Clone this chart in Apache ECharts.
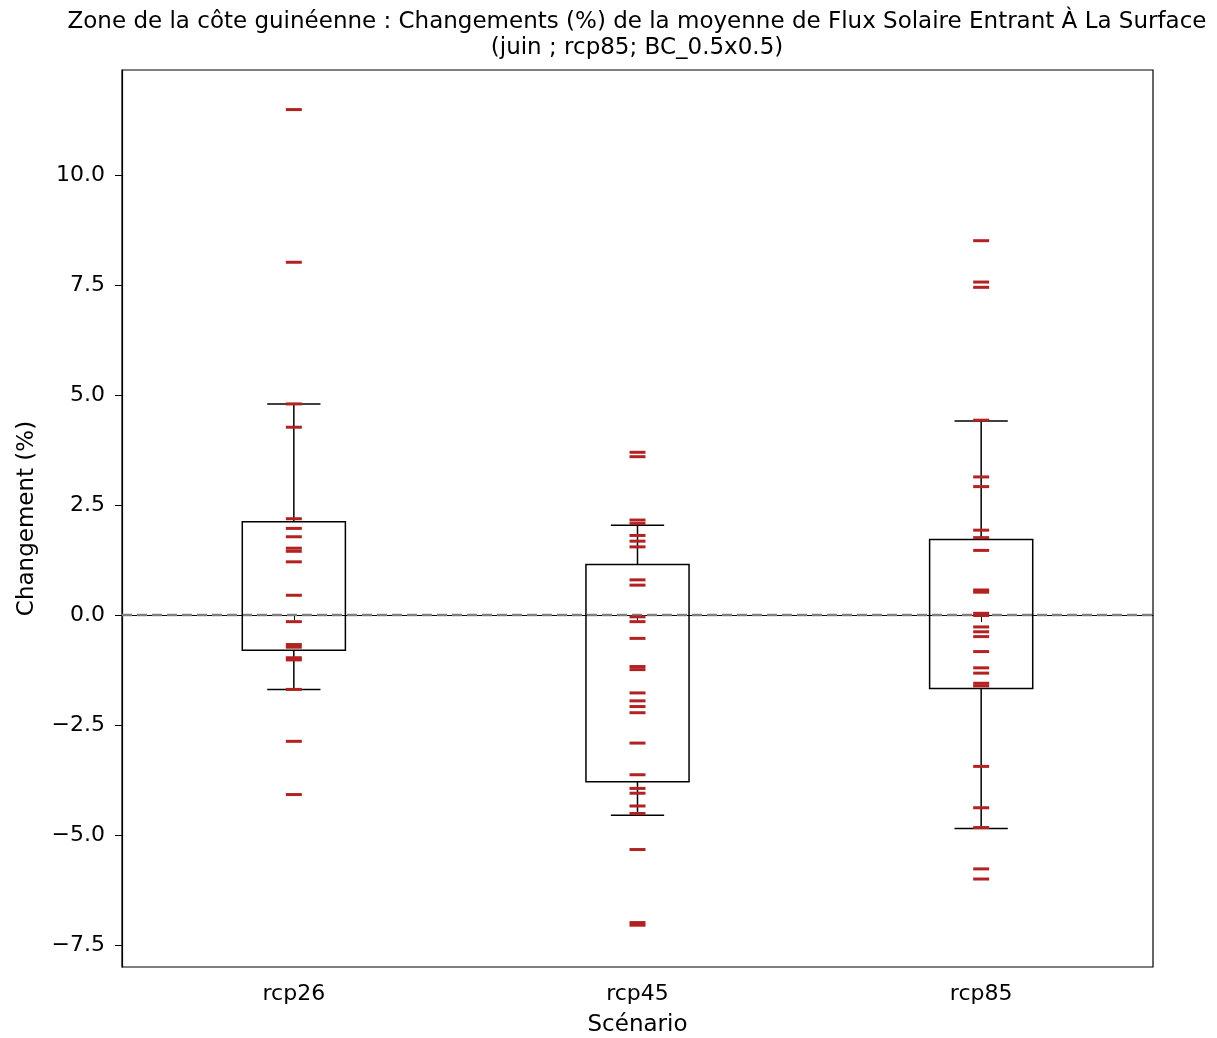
<!DOCTYPE html>
<html>
<head>
<meta charset="utf-8">
<script src="https://cdn.jsdelivr.net/npm/echarts@6/dist/echarts.min.js"></script>
<style>
	html, body { margin: 0; padding: 0; background: #fff; overflow: hidden; }
	#chart { width: 1217px; height: 1038px; }
</style>
</head>
<body>
<div id="chart"></div>
<script>
// scenarios on the x axis
var scenarios = ['rcp26', 'rcp45', 'rcp85'];

// one value per model
var rcp26 = [11.49, 8.02, 4.80, 4.27, 2.19, 1.97, 1.78, 1.52, 1.45, 1.21, 0.45, -0.15,
	-0.67, -0.73, -0.97, -1.02, -1.69, -2.87, -4.08];
var rcp45 = [3.70, 3.60, 2.16, 2.08, 1.81, 1.68, 1.55, 0.80, 0.68, -0.04, -0.15, -0.53,
	-1.17, -1.24, -1.77, -1.95, -2.08, -2.22, -2.91, -3.63, -3.94, -4.05, -4.34, -4.51,
	-5.33, -6.99, -7.05];
var rcp85 = [8.51, 7.57, 7.45, 4.43, 3.14, 2.92, 1.93, 1.76, 1.47, 0.57, 0.52, 0.04,
	-0.01, -0.27, -0.38, -0.49, -0.83, -1.20, -1.32, -1.55, -1.61, -3.44, -4.38, -4.83,
	-5.77, -6.00];

// box stats : [low whisker, q1, q3, high whisker]
var boxLow = [-1.69, -4.55, -4.85];
var boxQ1 = [-0.80, -3.79, -1.67];
var boxQ3 = [2.12, 1.15, 1.72];
var boxHigh = [4.80, 2.04, 4.41];

// reference line (no change)
var zeroLine = [0.0];

var yTicks = [-7.5, -5.0, -2.5, 0.0, 2.5, 5.0, 7.5, 10.0];

var font = 'DejaVu Sans';
var groups = [rcp26, rcp45, rcp85];

var points = [];
groups.forEach(function(vals, i) {
	vals.forEach(function(v) {
		points.push([i, v]);
	});
});

var boxes = scenarios.map(function(s, i) {
	return [i, boxLow[i], boxQ1[i], boxQ3[i], boxHigh[i]];
});

function renderBox(params, api) {
	var x = api.value(0);
	var lo = api.coord([x, api.value(1)]);
	var q1 = api.coord([x, api.value(2)]);
	var q3 = api.coord([x, api.value(3)]);
	var hi = api.coord([x, api.value(4)]);
	var band = api.size([1, 0])[0];
	var bw = band * 0.3, cw = band * 0.155;
	var cx = q1[0];
	var st = { stroke: '#000', fill: null, lineWidth: 1.5 };
	return {
		type: 'group',
		children: [
			{ type: 'rect', shape: { x: cx - bw / 2, y: q3[1], width: bw, height: q1[1] - q3[1] }, style: st },
			{ type: 'line', shape: { x1: cx, y1: q3[1], x2: cx, y2: hi[1] }, style: st },
			{ type: 'line', shape: { x1: cx, y1: q1[1], x2: cx, y2: lo[1] }, style: st },
			{ type: 'line', shape: { x1: cx - cw / 2, y1: hi[1], x2: cx + cw / 2, y2: hi[1] }, style: st },
			{ type: 'line', shape: { x1: cx - cw / 2, y1: lo[1], x2: cx + cw / 2, y2: lo[1] }, style: st }
		]
	};
}

function renderHLine(params, api) {
	var cs = params.coordSys;
	var y = api.coord([0, api.value(1)])[1];
	return {
		type: 'line',
		shape: { x1: cs.x, y1: y, x2: cs.x + cs.width, y2: y },
		style: { stroke: '#7f7f7f', lineWidth: 2.6, lineDash: [10, 5] }
	};
}

var chart = echarts.init(document.getElementById('chart'), null, { renderer: 'canvas' });
chart.setOption({
	animation: false,
	backgroundColor: '#fff',
	title: {
		text: 'Zone de la côte guinéenne : Changements (%) de la moyenne de Flux Solaire Entrant À La Surface\n(juin ; rcp85; BC_0.5x0.5)',
		left: 632,
		top: 4,
		textAlign: 'center',
		textStyle: { fontFamily: font, fontSize: 23, fontWeight: 'normal', color: '#000', lineHeight: 26 }
	},
	grid: {
		left: 122, right: 64, top: 70, bottom: 71,
		outerBoundsMode: 'none',
		show: true, borderColor: '#000', borderWidth: 1.2
	},
	xAxis: {
		type: 'category',
		data: scenarios,
		name: 'Scénario',
		nameLocation: 'middle',
		nameGap: 47,
		nameTextStyle: { fontFamily: font, fontSize: 23, color: '#000' },
		axisLine: { show: true, lineStyle: { color: '#000', width: 1.2 } },
		axisTick: { show: true, alignWithLabel: true, length: 7, lineStyle: { color: '#000' } },
		axisLabel: { margin: 16, fontFamily: font, fontSize: 22, color: '#000' },
		splitLine: { show: false }
	},
	yAxis: {
		type: 'value',
		min: -8.0,
		max: 12.39,
		name: 'Changement (%)',
		nameLocation: 'middle',
		nameGap: 83,
		nameTextStyle: { fontFamily: font, fontSize: 23, color: '#000' },
		axisLine: { show: true, lineStyle: { color: '#000', width: 1.2 } },
		axisTick: { show: true, length: 7, customValues: yTicks, lineStyle: { color: '#000' } },
		axisLabel: {
			margin: 17, fontFamily: font, fontSize: 22, color: '#000',
			customValues: yTicks,
			formatter: function(v) { return v.toFixed(1).replace('-', '\u2212'); }
		},
		splitLine: { show: false }
	},
	series: [
		{
			type: 'custom',
			renderItem: renderHLine,
			data: zeroLine.map(function(v) { return [0, v]; }),
			z: 2,
			silent: true
		},
		{
			type: 'custom',
			renderItem: renderBox,
			data: boxes,
			z: 3,
			silent: true
		},
		{
			type: 'scatter',
			data: points,
			symbol: 'rect',
			symbolSize: [16, 3],
			itemStyle: { color: '#b22222', opacity: 1 },
			z: 5
		}
	]
});
</script>
</body>
</html>
